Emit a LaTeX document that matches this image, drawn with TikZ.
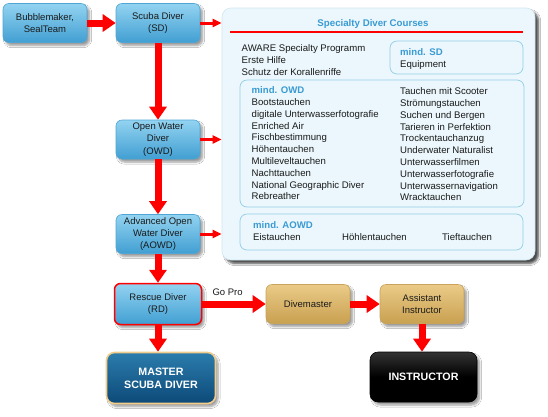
\documentclass[tikz,border=0pt]{standalone}
\usepackage{fontspec}
\setmainfont{Liberation Sans}
\usetikzlibrary{arrows.meta,shadows,shadows.blur}
\definecolor{boxtop}{HTML}{93D3F1}
\definecolor{boxbot}{HTML}{419FD2}
\definecolor{boxedge}{HTML}{4FA6D6}
\definecolor{tantop}{HTML}{EBCB88}
\definecolor{tanbot}{HTML}{C8A050}
\definecolor{tanedge}{HTML}{C9A35A}
\definecolor{msdtop}{HTML}{2B7CAD}
\definecolor{msdbot}{HTML}{0C4A78}
\definecolor{msdedge}{HTML}{F2CC8A}
\definecolor{arrowred}{HTML}{FF0000}
\definecolor{titleblue}{HTML}{3A9BD3}
\definecolor{panelfill}{HTML}{EBF7FC}
\definecolor{paneledge}{HTML}{CFE7F2}
\definecolor{inneredge}{HTML}{93CDE6}
\definecolor{textdark}{HTML}{1A1A1A}
\begin{document}
\begin{tikzpicture}[x=1pt,y=-1pt,
  box/.style={rounded corners=6pt, minimum width=84pt, minimum height=39pt,
    align=center, inner sep=1pt, text=textdark,
    font=\fontsize{9.5}{12.4}\selectfont,
    blur shadow={shadow xshift=2.5pt, shadow yshift=-3pt, shadow blur steps=6, shadow opacity=40}},
  bluebox/.style={box, top color=boxtop, bottom color=boxbot, draw=boxedge, line width=0.6pt},
  tanbox/.style={box, top color=tantop, bottom color=tanbot, draw=tanedge, line width=0.6pt},
  bigbox/.style={box, rounded corners=8pt, text=white,
    font=\bfseries\fontsize{10.7}{13.3}\selectfont},
  bigarrow/.style={draw=arrowred, line width=7pt, -{Triangle[width=17pt,length=13pt]}},
  smallarrow/.style={draw=arrowred, line width=3pt, -{Triangle[width=8pt,length=9pt]}},
  panelbox/.style={fill=panelfill, draw=paneledge, rounded corners=9pt, line width=0.6pt,
    blur shadow={shadow xshift=3.5pt, shadow yshift=-3.5pt, shadow blur steps=5, shadow opacity=70}},
  innerbox/.style={draw=inneredge, rounded corners=7pt, line width=0.7pt},
  listtext/.style={font=\fontsize{9.6}{11.8}\selectfont, align=left, inner sep=0pt,
    anchor=north west, text=textdark},
  linetext/.style={font=\fontsize{9.6}{11.8}\selectfont, inner sep=0pt,
    anchor=base west, text=textdark}
]
\useasboundingbox[fill=white] (0,0) rectangle (548,416);

% specialty panel
\node[panelbox, minimum width=313pt, minimum height=252pt] (panel) at (378.5,134) {};
\node[text=titleblue, font=\bfseries\fontsize{9.7}{12}\selectfont, inner sep=0pt] (title) at (373,24) {Specialty Diver Courses};
\draw[arrowred, line width=1.6pt] (230,32) -- (523,32);

\node[listtext] (aware) at (241.5,44.5) {AWARE Specialty Programm\\Erste Hilfe\\Schutz der Korallenriffe};

\node[innerbox, minimum width=133pt, minimum height=33pt] (sdbox) at (456.5,57.5) {};
\node[listtext] (sdtext) at (400,48.5) {{\color{titleblue}\bfseries mind. SD}\\Equipment};

\node[innerbox, minimum width=284pt, minimum height=127pt] (owdbox) at (382,143.5) {};
\node[listtext] (owdleft) at (251.5,86.5) {{\color{titleblue}\bfseries mind. OWD}\\Bootstauchen\\digitale Unterwasserfotografie\\Enriched Air\\Fischbestimmung\\H\"ohentauchen\\Multileveltauchen\\Nachttauchen\\National Geographic Diver\\Rebreather};
\node[listtext] (owdright) at (400,87.5) {Tauchen mit Scooter\\Str\"omungstauchen\\Suchen und Bergen\\Tarieren in Perfektion\\Trockentauchanzug\\Underwater Naturalist\\Unterwasserfilmen\\Unterwasserfotografie\\Unterwassernavigation\\Wracktauchen};

\node[innerbox, minimum width=283pt, minimum height=36pt] (aowdbox) at (381.5,232) {};
\node[listtext] (aowdtext) at (253,221.5) {{\color{titleblue}\bfseries mind. AOWD}\\Eistauchen};
\node[linetext] (hoehle) at (342,240.2) {H\"ohlentauchen};
\node[linetext] (tief) at (442,240.2) {Tieftauchen};

% career boxes
\node[bluebox] (bm) at (45,23) {Bubblemaker,\\SealTeam};
\node[bluebox] (sd) at (158,23) {Scuba Diver\\(SD)};
\node[bluebox] (owd) at (158,139.5) {Open Water\\Diver\\(OWD)};
\node[bluebox] (aowd) at (158,234) {Advanced Open\\Water Diver\\(AOWD)};
\node[bluebox, draw=arrowred, line width=1.5pt, minimum width=87pt, minimum height=41pt] (rd) at (158,304) {Rescue Diver\\(RD)};
\node[bigbox, top color=msdtop, bottom color=msdbot, draw=msdedge, line width=1.6pt,
  minimum width=109pt, minimum height=51pt] (msd) at (161,378) {MASTER\\SCUBA DIVER};
\node[tanbox] (dm) at (308,304) {Divemaster};
\node[tanbox] (ai) at (422,304) {Assistant\\Instructor};
\node[bigbox, top color=black!80, bottom color=black, middle color=black, draw=black, line width=0.6pt,
  minimum width=107pt, minimum height=50pt] (ins) at (423.5,377) {INSTRUCTOR};

% connectors
\draw[bigarrow] (bm) -- (sd);
\draw[smallarrow] (sd.east) -- (sd.east -| panel.west);
\draw[bigarrow] (sd) -- (owd);
\draw[smallarrow] (owd.east) -- (owd.east -| panel.west);
\draw[bigarrow] (owd) -- (aowd);
\draw[smallarrow] (aowd.east) -- (aowd.east -| panel.west);
\draw[bigarrow] (aowd) -- (rd);
\draw[bigarrow] (rd.south) -- (rd.south |- msd.north);
\draw[bigarrow] (rd) -- node[pos=0.4, above=5pt, inner sep=0pt, text=textdark,
  font=\fontsize{9.5}{11}\selectfont] (gopro) {Go Pro} (dm);
\draw[bigarrow] (dm) -- (ai);
\draw[bigarrow] (ai.south) -- (ai.south |- ins.north);
\end{tikzpicture}
\end{document}
